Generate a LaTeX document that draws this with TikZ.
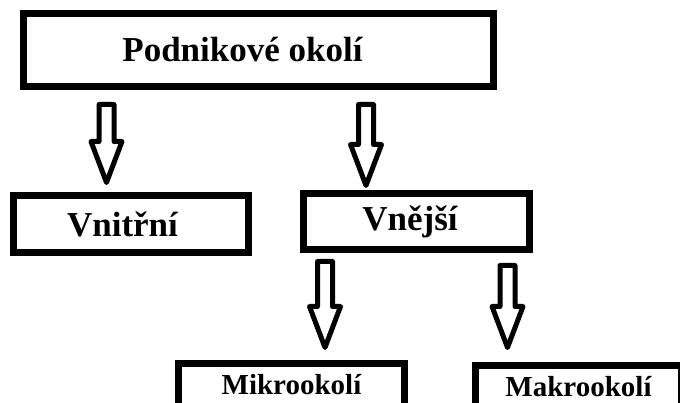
\documentclass[tikz,border=0pt]{standalone}
\usepackage{fontspec}
\setmainfont{Liberation Serif}

% hollow block arrow: x, top of shaft, tip
\newcommand{\hollowarrow}[3]{%
  \draw[hollow] (#1-7.5,#2) -- (#1+7.5,#2) -- (#1+7.5,#3-41) -- (#1+15.5,#3-41)
    -- (#1,#3) -- (#1-15.5,#3-41) -- (#1-7.5,#3-41) -- cycle;}

\begin{document}
\begin{tikzpicture}[x=1pt, y=-1pt,
    box/.style={draw, line width=7pt, inner sep=0pt, font=\bfseries\fontsize{35}{40}\selectfont},
    smallbox/.style={box, font=\bfseries\fontsize{29}{34}\selectfont, text depth=15pt},
    hollow/.style={line width=5pt, line join=round}]
    % keep the page at the size of the reference
    \clip (0,0) rectangle (680,403);

    % the boxes
    \node[box, minimum width=470pt, minimum height=73pt] (okoli) at (258.5,50) {Podnikové okolí\kern32pt};
    \node[box, minimum width=235pt, minimum height=57pt] (vnitrni) at (131,224) {Vnitřní\kern17pt};
    \node[box, minimum width=226pt, minimum height=56pt] (vnejsi) at (416.5,221.5) {Vnější\kern13pt};
    \node[smallbox, minimum width=226pt, minimum height=56pt] (mikro) at (291.5,391.5) {Mikrookolí};
    \node[smallbox, minimum width=206pt, minimum height=56pt] (makro) at (578.5,393.5) {Makrookolí};

    % the hollow arrows between them
    \hollowarrow{106.5}{104.5}{182.5}
    \hollowarrow{366}{104.5}{185.5}
    \hollowarrow{325}{261.5}{347.5}
    \hollowarrow{507.5}{265.5}{347.5}
\end{tikzpicture}
\end{document}
